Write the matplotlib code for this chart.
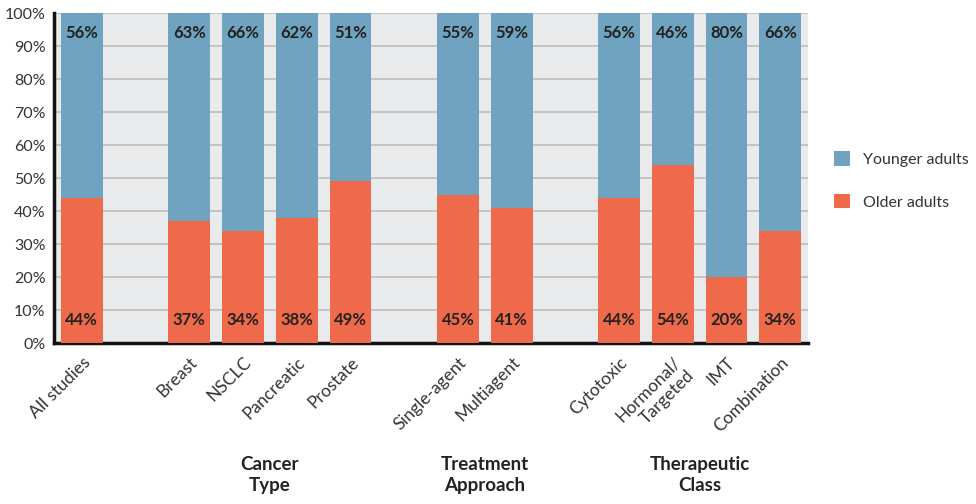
import matplotlib.pyplot as plt
import matplotlib.transforms as mtransforms
from matplotlib.patches import Patch

plt.rcParams['font.family'] = ['Lato', 'DejaVu Sans']

categorias = ["All studies", "Breast", "NSCLC", "Pancreatic", "Prostate",
              "Single-agent", "Multiagent", "Cytotoxic", "Hormonal/\nTargeted",
              "IMT", "Combination"]
posiciones = [0, 2, 3, 4, 5, 7, 8, 10, 11, 12, 13]
mayores = [44, 37, 34, 38, 49, 45, 41, 44, 54, 20, 34]
jovenes = [56, 63, 66, 62, 51, 55, 59, 56, 46, 80, 66]
grupos = ["Cancer\nType", "Treatment\nApproach", "Therapeutic\nClass"]
centros_grupo = [3.5, 7.5, 11.5]

azul = "#6fa3bf"
naranja = "#ee6a4b"

fig = plt.figure(figsize=(9.76, 5.04), dpi=100)
ax = fig.add_axes([0.0553, 0.3194, 0.7727, 0.6548])
ax.set_facecolor("#e9eaec")

ax.bar(posiciones, mayores, width=0.78, color=naranja, zorder=3)
ax.bar(posiciones, jovenes, width=0.78, bottom=mayores, color=azul, zorder=3)

for x, m, j in zip(posiciones, mayores, jovenes):
    ax.text(x, 7, f"{m}%", ha="center", va="center", fontsize=12,
            fontweight="bold", color="#222222", zorder=4)
    ax.text(x, 94, f"{j}%", ha="center", va="center", fontsize=12,
            fontweight="bold", color="#222222", zorder=4)

ax.set_xlim(-0.52, 13.52)
ax.set_ylim(0, 100)
ax.set_yticks(range(0, 101, 10))
ax.set_yticklabels([f"{v}%" for v in range(0, 101, 10)], fontsize=11.5, color="#333333")
ax.yaxis.grid(True, color="#bdbdbd", linewidth=1.2, zorder=1)
ax.set_axisbelow(True)
ax.tick_params(axis="y", length=0, pad=6)
ax.tick_params(axis="x", length=0, pad=8)

ax.set_xticks(posiciones)
ax.set_xticklabels(categorias, rotation=45, ha="right", rotation_mode="anchor",
                   fontsize=12.5, color="#333333")

for lado in ["top", "right"]:
    ax.spines[lado].set_visible(False)
for lado in ["left", "bottom"]:
    ax.spines[lado].set_linewidth(2.5)
    ax.spines[lado].set_color("#111111")

trans = mtransforms.blended_transform_factory(ax.transData, fig.transFigure)
for c, g in zip(centros_grupo, grupos):
    ax.text(c, 0.02, g, transform=trans, ha="center", va="bottom",
            fontsize=13.5, fontweight="bold", color="#222222", linespacing=1.25)

manijas = [Patch(facecolor=azul, label="Younger adults"),
           Patch(facecolor=naranja, label="Older adults")]
fig.legend(handles=manijas, loc="center left", bbox_to_anchor=(0.84, 0.642),
           frameon=False, fontsize=11.5, handlelength=1.0, handleheight=1.0,
           labelspacing=1.7, handletextpad=0.8, labelcolor="#333333")

fig.savefig("out.png", dpi=100, facecolor="white")
